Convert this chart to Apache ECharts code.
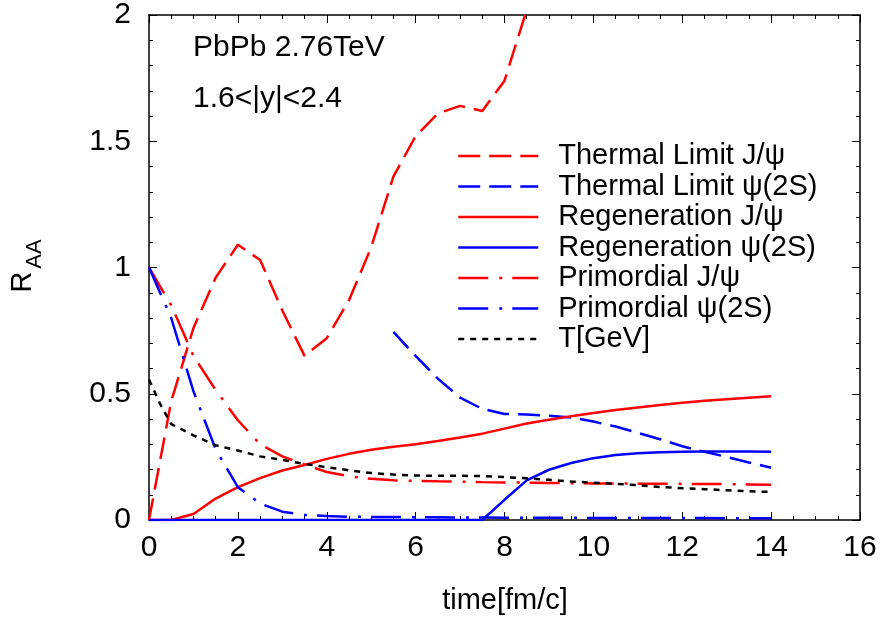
<!DOCTYPE html>
<html>
<head>
<meta charset="utf-8">
<script src="https://cdn.jsdelivr.net/npm/echarts@6/dist/echarts.min.js"></script>
<style>
html,body{margin:0;padding:0;background:#fff;}
#c{width:883px;height:620px;}
</style>
</head>
<body>
<div id="c"></div>
<script>
// ---- data ----
var xThermJ = [0, 0.5, 1.0, 1.5, 2.0, 2.5, 3.0, 3.5, 4.0, 4.5, 5.0, 5.5, 6.0, 6.5, 7.0, 7.5, 8.0, 8.5, 9.0];
var thermJ  = [0, 0.47, 0.76, 0.96, 1.09, 1.03, 0.83, 0.65, 0.72, 0.87, 1.08, 1.36, 1.52, 1.61, 1.64, 1.62, 1.74, 2.02, 2.3];

var xTherm2S = [5.5, 6.0, 6.5, 7.0, 7.5, 8.0, 8.5, 9.0, 9.5, 10.0, 10.5, 11.0, 11.5, 12.0, 12.5, 13.0, 13.5, 14.0];
var therm2S  = [0.745, 0.65, 0.56, 0.485, 0.44, 0.42, 0.418, 0.413, 0.406, 0.39, 0.37, 0.345, 0.32, 0.292, 0.27, 0.25, 0.228, 0.207];

var xHalf = [0, 0.5, 1.0, 1.5, 2.0, 2.5, 3.0, 3.5, 4.0, 4.5, 5.0, 5.5, 6.0, 6.5, 7.0, 7.5, 8.0, 8.5, 9.0, 9.5, 10.0, 10.5, 11.0, 11.5, 12.0, 12.5, 13.0, 13.5, 14.0];
var regenJ  = [0, 0, 0.024, 0.085, 0.13, 0.166, 0.196, 0.218, 0.242, 0.262, 0.278, 0.29, 0.30, 0.313, 0.327, 0.342, 0.362, 0.382, 0.397, 0.411, 0.424, 0.436, 0.446, 0.455, 0.464, 0.472, 0.478, 0.484, 0.49];
var regen2S = [0, 0, 0, 0, 0, 0, 0, 0, 0, 0, 0, 0, 0, 0, 0, 0, 0.08, 0.157, 0.199, 0.226, 0.245, 0.257, 0.264, 0.268, 0.27, 0.271, 0.271, 0.271, 0.27];
var primJ   = [1.0, 0.85, 0.65, 0.515, 0.395, 0.30, 0.252, 0.22, 0.19, 0.173, 0.163, 0.157, 0.155, 0.153, 0.152, 0.15, 0.149, 0.148, 0.147, 0.146, 0.145, 0.145, 0.144, 0.144, 0.143, 0.143, 0.142, 0.141, 0.14];
var prim2S  = [1.0, 0.80, 0.51, 0.28, 0.13, 0.065, 0.033, 0.02, 0.016, 0.013, 0.012, 0.012, 0.011, 0.011, 0.010, 0.010, 0.009, 0.009, 0.009, 0.009, 0.008, 0.008, 0.008, 0.008, 0.008, 0.008, 0.007, 0.007, 0.007];

var xTemp = [0, 0.25, 0.5, 1.0, 1.5, 2.0, 2.5, 3.0, 3.5, 4.0, 4.5, 5.0, 5.5, 6.0, 6.5, 7.0, 7.5, 8.0, 8.5, 9.0, 9.5, 10.0, 10.5, 11.0, 11.5, 12.0, 12.5, 13.0, 13.5, 14.0];
var temp  = [0.556, 0.46, 0.38, 0.335, 0.296, 0.275, 0.252, 0.238, 0.222, 0.209, 0.197, 0.186, 0.18, 0.176, 0.175, 0.175, 0.174, 0.17, 0.165, 0.159, 0.152, 0.148, 0.143, 0.138, 0.131, 0.126, 0.122, 0.118, 0.114, 0.111];

var seriesNames = ['Thermal Limit J/\u03c8', 'Thermal Limit \u03c8(2S)', 'Regeneration J/\u03c8', 'Regeneration \u03c8(2S)', 'Primordial J/\u03c8', 'Primordial \u03c8(2S)', 'T[GeV]'];
var xTicks = [0, 2, 4, 6, 8, 10, 12, 14, 16];
var yTicks = [0, 0.5, 1, 1.5, 2];

function zip(xs, ys) { return xs.map(function (x, i) { return [x, ys[i]]; }); }

var FONT = 'Liberation Sans, Arial, Helvetica, sans-serif';
var RED = '#ff0000', BLUE = '#0000ff', BLACK = '#000000';
var DASH = [22, 9];
var DASHDOT = [30, 11, 3, 10];
var DOT = [6, 6];

function mk(name, data, color, type) {
  return {
    name: name, type: 'line', data: data, symbol: 'none', showSymbol: false,
    xAxisIndex: 0, yAxisIndex: 0, clip: true, animation: false,
    lineStyle: { color: color, width: 2.5, type: type },
    itemStyle: { color: color }
  };
}

var chart = echarts.init(document.getElementById('c'), null, { renderer: 'canvas' });

var axisCommon = {
  axisLine: { show: true, onZero: false, lineStyle: { color: '#000', width: 1.5 } },
  axisTick: { show: true, inside: true, length: 8, lineStyle: { color: '#000', width: 1 } },
  minorTick: { show: true, length: 4, lineStyle: { color: '#000', width: 1 } },
  splitLine: { show: false },
  minorSplitLine: { show: false }
};

var option = {
  backgroundColor: '#fff',
  animation: false,
  grid: { left: 149, right: 23, top: 10, bottom: 100, containLabel: false },
  xAxis: [
    Object.assign({}, axisCommon, {
      type: 'value', min: 0, max: 16, interval: 2, position: 'bottom',
      minorTick: Object.assign({}, axisCommon.minorTick, { splitNumber: 4 }),
      axisLabel: { show: true, color: '#000', fontSize: 30, fontFamily: FONT, margin: 13,
        formatter: function (v) { return xTicks.indexOf(v) >= 0 ? String(v) : ''; } }
    }),
    Object.assign({}, axisCommon, {
      type: 'value', min: 0, max: 16, interval: 2, position: 'top',
      minorTick: Object.assign({}, axisCommon.minorTick, { splitNumber: 4 }),
      axisLabel: { show: false }
    })
  ],
  yAxis: [
    Object.assign({}, axisCommon, {
      type: 'value', min: 0, max: 2, interval: 0.5, position: 'left',
      minorTick: Object.assign({}, axisCommon.minorTick, { splitNumber: 5 }),
      axisLabel: { show: true, color: '#000', fontSize: 30, fontFamily: FONT, margin: 18,
        formatter: function (v) { return yTicks.indexOf(v) >= 0 ? String(v) : ''; } }
    }),
    Object.assign({}, axisCommon, {
      type: 'value', min: 0, max: 2, interval: 0.5, position: 'right',
      minorTick: Object.assign({}, axisCommon.minorTick, { splitNumber: 5 }),
      axisLabel: { show: false }
    })
  ],
  legend: {
    show: true, orient: 'vertical', left: 452, top: 136,
    itemWidth: 80, itemHeight: 14, itemGap: 0.5,
    data: seriesNames,
    lineStyle: { width: 2.5 },
    itemStyle: { opacity: 0, borderWidth: 0 },
    textStyle: { color: '#000', fontSize: 29, fontFamily: FONT, lineHeight: 30, padding: [0, 0, 0, 15] },
    selectedMode: false
  },
  series: [
    mk(seriesNames[0], zip(xThermJ, thermJ), RED, DASH),
    mk(seriesNames[1], zip(xTherm2S, therm2S), BLUE, DASH),
    mk(seriesNames[2], zip(xHalf, regenJ), RED, 'solid'),
    mk(seriesNames[3], zip(xHalf, regen2S), BLUE, 'solid'),
    mk(seriesNames[4], zip(xHalf, primJ), RED, DASHDOT),
    mk(seriesNames[5], zip(xHalf, prim2S), BLUE, DASHDOT),
    mk(seriesNames[6], zip(xTemp, temp), BLACK, DOT)
  ],
  graphic: [
    { type: 'text', left: 193, top: 33, silent: true,
      style: { text: 'PbPb 2.76TeV', fontSize: 30, fontFamily: FONT, fill: '#000' } },
    { type: 'text', left: 193, top: 84, silent: true,
      style: { text: '1.6<|y|<2.4', fontSize: 30, fontFamily: FONT, fill: '#000' } },
    { type: 'text', x: 505, y: 601, silent: true,
      style: { text: 'time[fm/c]', fontSize: 29, fontFamily: FONT, fill: '#000', align: 'center', verticalAlign: 'middle' } },
    { type: 'text', x: 23, y: 282, rotation: Math.PI / 2, silent: true,
      style: { text: 'R', fontSize: 29, fontFamily: FONT, fill: '#000', align: 'center', verticalAlign: 'middle' } },
    { type: 'text', x: 35, y: 254, rotation: Math.PI / 2, silent: true,
      style: { text: 'AA', fontSize: 22, fontFamily: FONT, fill: '#000', align: 'center', verticalAlign: 'middle' } }
  ]
};
chart.setOption(option);
</script>
</body>
</html>
